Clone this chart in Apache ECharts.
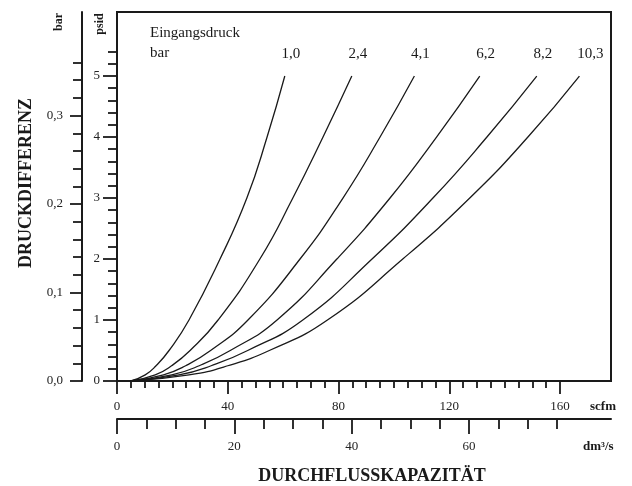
<!DOCTYPE html>
<html>
<head>
<meta charset="utf-8">
<script src="https://cdn.jsdelivr.net/npm/echarts@6/dist/echarts.min.js"></script>
<style>
html,body{margin:0;padding:0;background:#fff;}
#c{width:632px;height:486px;}
</style>
</head>
<body>
<div id="c"></div>
<script>
// ---- data ----
const psidLevels = [0, 0.1, 0.25, 0.5, 1, 2, 3, 4, 5];
const curveNames = ['1,0', '2,4', '4,1', '6,2', '8,2', '10,3'];
const flow_1_0  = [5, 10.2, 14.1, 18.8, 26.0, 37.2, 46.9, 54.2, 60.6];
const flow_2_4  = [5, 13.8, 19.7, 26.4, 36.5, 51.6, 63.5, 74.4, 84.8];
const flow_4_1  = [5, 16.8, 24.8, 33.8, 47.3, 66.1, 81.6, 95.0, 107.4];
const flow_6_2  = [5, 19.8, 29.7, 40.9, 57.8, 79.4, 98.6, 115.4, 131.0];
const flow_8_2  = [5, 22.4, 34.0, 47.2, 67.1, 92.1, 114.1, 133.6, 151.6];
const flow_10_3 = [5, 26.0, 40.0, 55.0, 76.0, 103.2, 127.4, 148.4, 167.0];
const flows = [flow_1_0, flow_2_4, flow_4_1, flow_6_2, flow_8_2, flow_10_3];

const scfmMajor = [0, 40, 80, 120, 160];
const scfmMinor = [5,10,15,20,25,30,35,45,50,55,60,65,70,75,85,90,95,100,105,110,115,125,130,135,140,145,150,155];
const dmMajor = [0, 20, 40, 60];
const dmMinor = [5,10,15,25,30,35,45,50,55,65,70,75];
const psidMajor = [0, 1, 2, 3, 4, 5];
const psidMinor = [0.2,0.4,0.6,0.8,1.2,1.4,1.6,1.8,2.2,2.4,2.6,2.8,3.2,3.4,3.6,3.8,4.2,4.4,4.6,4.8,5.2,5.4];
const barMajor = [0, 0.1, 0.2, 0.3];
const barMinor = [0.02,0.04,0.06,0.08,0.12,0.14,0.16,0.18,0.22,0.24,0.26,0.28,0.32,0.34,0.36];

const SCFM_MAX = 178.4;
const PSID_MAX = 6.05;
const SCFM_PER_DM3S = 2.11888;
const BAR_PER_PSI = 0.0689476;

// ---- chart ----
const serif = '"Liberation Serif", "DejaVu Serif", serif';
const ink = '#1a1a1a';
const chart = echarts.init(document.getElementById('c'), null, {renderer: 'canvas'});

function xAx(min, max, offset, ticks, len, labels, lineShow, margin) {
  return {
    type: 'value', min: min, max: max, position: 'bottom', offset: offset,
    axisLine: {show: lineShow, onZero: false, lineStyle: {color: ink, width: 2}},
    axisTick: {show: true, customValues: ticks, length: len, lineStyle: {color: ink, width: 1.8}},
    axisLabel: labels ? {show: true, customValues: labels, margin: margin, color: '#222',
      fontFamily: serif, fontSize: 13} : {show: false},
    splitLine: {show: false}
  };
}
function yAx(min, max, offset, ticks, len, labels, lineShow, margin, fmt) {
  return {
    type: 'value', min: min, max: max, position: 'left', offset: offset,
    axisLine: {show: lineShow, onZero: false, lineStyle: {color: ink, width: 2}},
    axisTick: {show: true, customValues: ticks, length: len, lineStyle: {color: ink, width: 1.8}},
    axisLabel: labels ? {show: true, customValues: labels, margin: margin, color: '#222',
      fontFamily: serif, fontSize: 13, formatter: fmt} : {show: false},
    splitLine: {show: false}
  };
}

const lastIdx = psidLevels.length - 1;
const series = curveNames.map((name, i) => ({
  name: name,
  type: 'line',
  xAxisIndex: 0,
  yAxisIndex: 0,
  smooth: 0.5,
  symbol: 'circle',
  symbolSize: 0,
  showSymbol: true,
  showAllSymbol: true,
  itemStyle: {color: 'transparent'},
  lineStyle: {color: ink, width: 1.3},
  label: {show: false},
  data: flows[i].map((q, k) => {
    const item = {value: [q, psidLevels[k]]};
    if (k === lastIdx) {
      item.label = {show: true, position: 'top', distance: 14, offset: [i === 5 ? 11 : 6, 0],
        formatter: name, fontFamily: serif, fontSize: 15, color: ink};
    }
    return item;
  }),
  silent: true
}));

chart.setOption({
  animation: false,
  backgroundColor: '#fff',
  grid: {left: 117, top: 12, width: 494, height: 369, show: true,
    borderColor: ink, borderWidth: 2, backgroundColor: 'transparent', containLabel: false},
  xAxis: [
    xAx(0, SCFM_MAX, 0, scfmMajor, 13, scfmMajor, true, 19),
    xAx(0, SCFM_MAX, 0, scfmMinor, 7, null, false, 0),
    xAx(0, SCFM_MAX / SCFM_PER_DM3S, 38, dmMajor, 15, dmMajor, true, 21),
    xAx(0, SCFM_MAX / SCFM_PER_DM3S, 38, dmMinor, 10, null, false, 0)
  ],
  yAxis: [
    yAx(0, PSID_MAX, 0, psidMajor, 14, psidMajor, true, 17, v => String(v)),
    yAx(0, PSID_MAX, 0, psidMinor, 9, null, false, 0),
    yAx(0, PSID_MAX * BAR_PER_PSI, 35, barMajor, 12, barMajor, true, 19, v => v.toFixed(1).replace('.', ',')),
    yAx(0, PSID_MAX * BAR_PER_PSI, 35, barMinor, 9, null, false, 0)
  ],
  graphic: [
    {type: 'text', x: 150, y: 33, style: {text: 'Eingangsdruck', font: '15px ' + serif, fill: ink, align: 'left', verticalAlign: 'middle'}},
    {type: 'text', x: 150, y: 53, style: {text: 'bar', font: '15px ' + serif, fill: ink, align: 'left', verticalAlign: 'middle'}},
    {type: 'text', x: 59, y: 22, rotation: Math.PI / 2, style: {text: 'bar', font: 'bold 12px ' + serif, fill: ink, align: 'center', verticalAlign: 'middle'}},
    {type: 'text', x: 100, y: 24, rotation: Math.PI / 2, style: {text: 'psid', font: 'bold 12px ' + serif, fill: ink, align: 'center', verticalAlign: 'middle'}},
    {type: 'text', x: 590, y: 407, style: {text: 'scfm', font: 'bold 13px ' + serif, fill: ink, align: 'left', verticalAlign: 'middle'}},
    {type: 'text', x: 583, y: 447, style: {text: 'dm³/s', font: 'bold 13px ' + serif, fill: ink, align: 'left', verticalAlign: 'middle'}},
    {type: 'text', x: 26, y: 183, rotation: Math.PI / 2, style: {text: 'DRUCKDIFFERENZ', font: 'bold 18px ' + serif, fill: ink, align: 'center', verticalAlign: 'middle'}},
    {type: 'text', x: 372, y: 476, style: {text: 'DURCHFLUSSKAPAZITÄT', font: 'bold 18px ' + serif, fill: ink, align: 'center', verticalAlign: 'middle'}}
  ],
  series: series
});
</script>
</body>
</html>
